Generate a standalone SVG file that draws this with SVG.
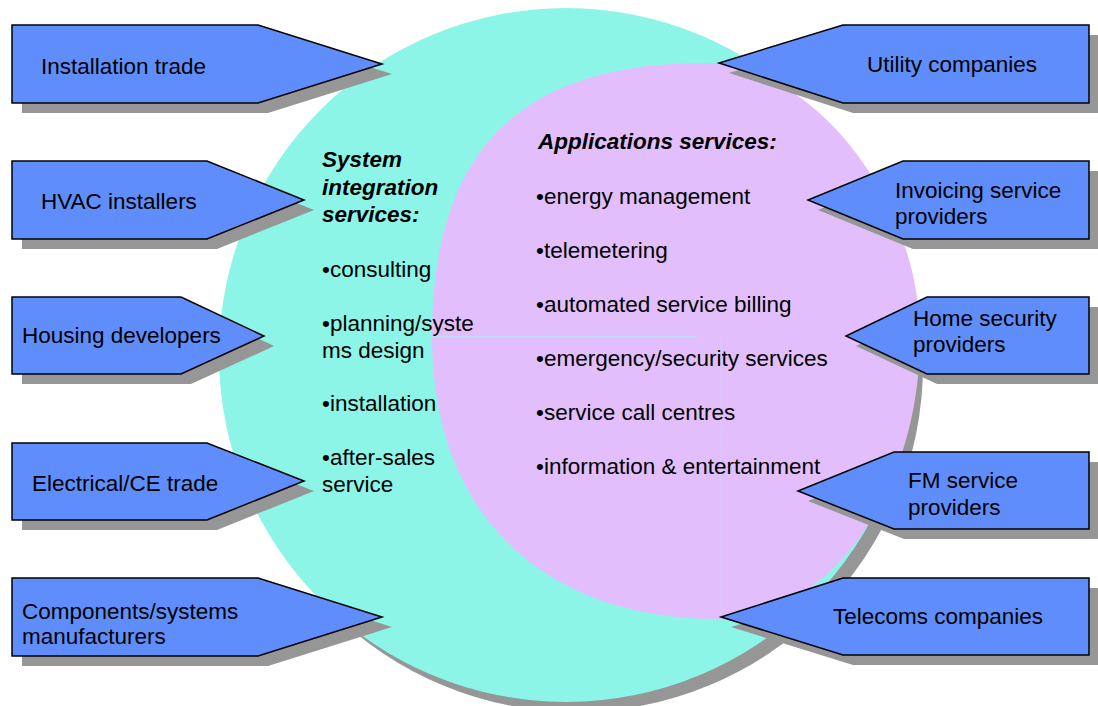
<svg xmlns="http://www.w3.org/2000/svg" width="1098" height="706" viewBox="0 0 1098 706">
  <style>
    .shadow { fill: #969696; }
    .tag { fill: #5F8EFC; stroke: #000; stroke-width: 1.5; stroke-linejoin: miter; }
    text { font-family: "Liberation Sans", Arial, sans-serif; font-size: 22.5px; fill: #000; }
    .head { font-weight: bold; font-style: italic; }
  </style>

  <!-- large circle: system integration -->
  <g id="integration-circle">
    <circle class="shadow" cx="576" cy="365" r="347"/>
    <circle cx="566" cy="355" r="347" fill="#8CF5E8"/>
  </g>

  <!-- inner region: applications services -->
  <g id="applications-region">
    <path d="M432,337 C432,151 519,63 705,63 C812,63 920,200 920,337 C920,492 829,619 718,619 C541,619 432,512 432,337 Z" fill="#E2BFFC"/>
    <line x1="432" y1="337" x2="697" y2="337" stroke="#B2E2F4" stroke-width="1.5"/>
    <line x1="721" y1="337" x2="721" y2="619" stroke="#D6CBF9" stroke-width="1"/>
  </g>

  <g id="integration-text">
    <text class="head" x="322" y="167">System</text>
    <text class="head" x="322" y="195">integration</text>
    <text class="head" x="322" y="222">services:</text>
    <text x="322" y="277">•consulting</text>
    <text x="322" y="331">•planning/syste</text>
    <text x="322" y="358">ms design</text>
    <text x="322" y="411">•installation</text>
    <text x="322" y="465">•after-sales</text>
    <text x="322" y="492">service</text>
  </g>

  <g id="applications-text">
    <text class="head" x="538" y="149">Applications services:</text>
    <text x="536" y="204">•energy management</text>
    <text x="536" y="258">•telemetering</text>
    <text x="536" y="312">•automated service billing</text>
    <text x="536" y="366">•emergency/security services</text>
    <text x="536" y="420">•service call centres</text>
    <text x="536" y="474">•information &amp; entertainment</text>
  </g>

  <!-- left-hand tags pointing into the circle -->
  <g id="installation-trade">
    <path class="shadow" transform="translate(10,10)" d="M12,25 H258 L382,64 L258,103 H12 Z"/>
    <path class="tag" d="M12,25 H258 L382,64 L258,103 H12 Z"/>
    <text x="41" y="74">Installation trade</text>
  </g>
  <g id="hvac-installers">
    <path class="shadow" transform="translate(10,10)" d="M12,161 H207 L304,200 L207,239 H12 Z"/>
    <path class="tag" d="M12,161 H207 L304,200 L207,239 H12 Z"/>
    <text x="41" y="209">HVAC installers</text>
  </g>
  <g id="housing-developers">
    <path class="shadow" transform="translate(10,10)" d="M12,297 H181 L264,336 L181,374 H12 Z"/>
    <path class="tag" d="M12,297 H181 L264,336 L181,374 H12 Z"/>
    <text x="22" y="343">Housing developers</text>
  </g>
  <g id="electrical-ce-trade">
    <path class="shadow" transform="translate(10,10)" d="M12,443 H207 L304,481 L207,520 H12 Z"/>
    <path class="tag" d="M12,443 H207 L304,481 L207,520 H12 Z"/>
    <text x="32" y="491">Electrical/CE trade</text>
  </g>
  <g id="components-manufacturers">
    <path class="shadow" transform="translate(10,10)" d="M12,578 H258 L382,617 L258,656 H12 Z"/>
    <path class="tag" d="M12,578 H258 L382,617 L258,656 H12 Z"/>
    <text x="22" y="619">Components/systems</text>
    <text x="22" y="644">manufacturers</text>
  </g>

  <!-- right-hand tags pointing into the circle -->
  <g id="utility-companies">
    <path class="shadow" transform="translate(10,10)" d="M1089,25 H843 L719,63 L843,103 H1089 Z"/>
    <path class="tag" d="M1089,25 H843 L719,63 L843,103 H1089 Z"/>
    <text x="867" y="72">Utility companies</text>
  </g>
  <g id="invoicing-providers">
    <path class="shadow" transform="translate(10,10)" d="M1089,161 H903 L808,200 L903,239 H1089 Z"/>
    <path class="tag" d="M1089,161 H903 L808,200 L903,239 H1089 Z"/>
    <text x="895" y="198">Invoicing service</text>
    <text x="895" y="224">providers</text>
  </g>
  <g id="home-security-providers">
    <path class="shadow" transform="translate(10,10)" d="M1089,297 H927 L846,336 L927,374 H1089 Z"/>
    <path class="tag" d="M1089,297 H927 L846,336 L927,374 H1089 Z"/>
    <text x="913" y="326">Home security</text>
    <text x="913" y="352">providers</text>
  </g>
  <g id="fm-providers">
    <path class="shadow" transform="translate(10,10)" d="M1089,452 H894 L798,491 L894,529 H1089 Z"/>
    <path class="tag" d="M1089,452 H894 L798,491 L894,529 H1089 Z"/>
    <text x="908" y="488">FM service</text>
    <text x="908" y="515">providers</text>
  </g>
  <g id="telecoms-companies">
    <path class="shadow" transform="translate(10,10)" d="M1089,578 H843 L721,617 L843,655 H1089 Z"/>
    <path class="tag" d="M1089,578 H843 L721,617 L843,655 H1089 Z"/>
    <text x="833" y="624">Telecoms companies</text>
  </g>
</svg>
